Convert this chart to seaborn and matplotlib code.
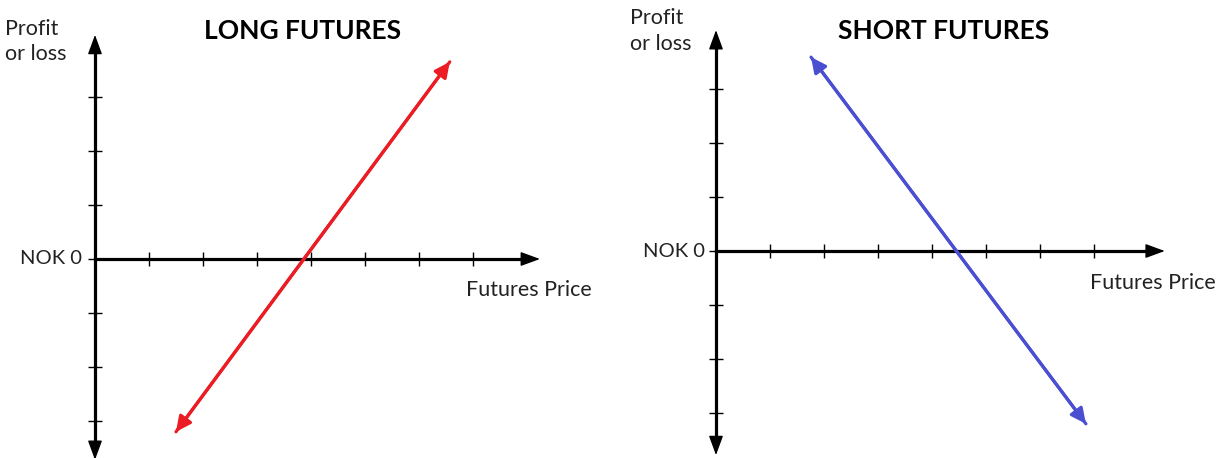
import numpy as np
import pandas as pd
import matplotlib.pyplot as plt
import seaborn as sns

# tick marks along each axis (price units / profit units)
x_ticks = [1, 2, 3, 4, 5, 6, 7]
y_ticks = [-3, -2, -1, 0, 1, 2, 3]

# payoff lines: arrow end points (price, profit)
long_price = [1.5, 6.57]
long_profit = [-3.2, 3.65]
short_price = [1.76, 6.85]
short_profit = [3.59, -3.2]

titles = ["LONG FUTURES", "SHORT FUTURES"]
y_label = "Profit\nor loss"
x_label = "Futures Price"
zero_label = "NOK 0"

sns.set_style("white")
plt.rcParams["font.family"] = ["Lato", "DejaVu Sans"]

TEXT = "#222222"
RED = "#ec1c24"
BLUE = "#4a4fd2"


def draw_panel(ax, price, profit, color, title, lims, axis_ends, pos):
    xlim, ylim = lims
    x_end, y_top, y_bot = axis_ends
    ax.set_xlim(*xlim)
    ax.set_ylim(*ylim)

    # axes through the origin
    for s in ["top", "right"]:
        ax.spines[s].set_visible(False)
    for s in ["left", "bottom"]:
        ax.spines[s].set_position(("data", 0))
        ax.spines[s].set_linewidth(2.3)
        ax.spines[s].set_color("black")
    ax.spines["left"].set_bounds(max(y_bot + 0.2, ylim[0]), y_top - 0.2)
    ax.spines["bottom"].set_bounds(0, x_end - 0.2)
    ax.set_xticks(x_ticks)
    ax.set_yticks(y_ticks)
    ax.tick_params(direction="inout", length=10, width=1, color="black",
                   bottom=True, left=True, labelleft=False, labelbottom=False)

    head = dict(arrowstyle="-|>,head_length=0.6,head_width=0.22", mutation_scale=20,
                fc="black", ec="black", lw=1, shrinkA=0, shrinkB=0)
    ax.annotate("", xy=(x_end, 0), xytext=(x_end - 0.4, 0), arrowprops=head)
    ax.annotate("", xy=(0, y_top), xytext=(0, y_top - 0.4), arrowprops=head)
    ax.annotate("", xy=(0, y_bot), xytext=(0, y_bot + 0.4), arrowprops=head,
                annotation_clip=False)

    # payoff line
    df = pd.DataFrame({"price": price, "profit": profit})
    sns.lineplot(data=df, x="price", y="profit", ax=ax, color=color, lw=2.3,
                 sort=False, zorder=3)
    tip = dict(arrowstyle="<|-|>,head_length=0.45,head_width=0.22", mutation_scale=20,
               fc=color, ec=color, lw=2.3, shrinkA=0, shrinkB=0)
    ax.annotate("", xy=(price[1], profit[1]), xytext=(price[0], profit[0]),
                arrowprops=tip, zorder=3)
    ax.set_xlabel("")
    ax.set_ylabel("")

    (ylx, yly), (tx, ty), (zx, zy), (fx, fy) = pos
    ax.text(ylx, yly, y_label, ha="left", va="top", fontsize=15.5, color=TEXT,
            linespacing=1.35)
    ax.text(tx, ty, title, ha="center", va="center", fontsize=19,
            fontweight="bold", color="black")
    ax.text(zx, zy, zero_label, ha="right", va="center", fontsize=14.5, color=TEXT)
    ax.text(fx, fy, x_label, ha="left", va="center", fontsize=15.5, color=TEXT)


fig = plt.figure(figsize=(12.26, 4.58), dpi=100)
ax1 = fig.add_axes([0, 0, 0.5, 1])
ax2 = fig.add_axes([0.5, 0, 0.5, 1])
ax1.set_facecolor("none")
ax2.set_facecolor("none")

draw_panel(ax1, long_price, long_profit, RED, titles[0],
           ((-1.759, 9.593), (-3.685, 4.796)),
           (8.24, 4.15, -3.72),
           ((-1.66, 4.45), (3.85, 4.22), (-0.24, 0.0), (6.88, -0.58)))
draw_panel(ax2, short_price, short_profit, BLUE, titles[1],
           ((-1.907, 9.444), (-3.833, 4.648)),
           (8.31, 4.09, -3.78),
           ((-1.6, 4.5), (4.22, 4.07), (-0.2, 0.0), (6.93, -0.59)))

fig.savefig("out.png", dpi=100, facecolor="white")
